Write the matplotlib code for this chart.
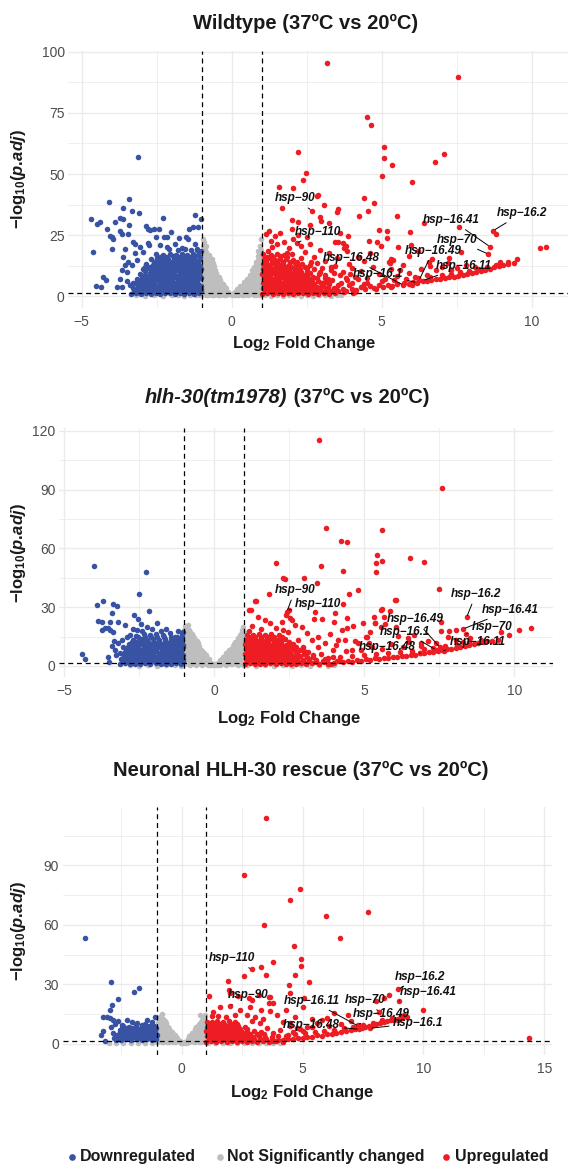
import matplotlib
matplotlib.use('Agg')
import matplotlib.pyplot as plt
from matplotlib.lines import Line2D
import numpy as np

plt.rcParams['font.family'] = ['Liberation Sans', 'DejaVu Sans']
plt.rcParams['mathtext.fontset'] = 'custom'
plt.rcParams['mathtext.rm'] = 'Liberation Sans:bold'
plt.rcParams['mathtext.it'] = 'Liberation Sans:italic:bold'
plt.rcParams['mathtext.bf'] = 'Liberation Sans:bold'

COL_DOWN = '#3953A4'
COL_NS = '#BEBEBE'
COL_UP = '#EE1D24'
LFC_CUT = 1.0
P_CUT = 0.05

# ---------------------------------------------------------------- Wildtype
wt_down = [
    (-3.13, 57.1), (-4.08, 38.6), (-3.42, 39.6), (-3.61, 36.0), (-3.33, 34.8), (-3.08, 34.1), (-4.69, 31.5),
    (-4.50, 29.5), (-4.38, 30.4), (-3.88, 30.4), (-3.72, 31.8), (-3.63, 31.7), (-3.43, 29.2), (-4.15, 27.4),
    (-3.72, 26.7), (-4.06, 24.8), (-3.98, 24.0), (-3.95, 23.2), (-3.47, 25.5), (-3.66, 25.6), (-3.99, 19.1),
    (-4.61, 17.9), (-3.56, 19.1), (-4.28, 7.9), (-4.20, 6.5), (-4.52, 4.1), (-4.37, 3.5), (-3.83, 3.5),
    (-3.72, 6.8), (-3.50, 6.2), (-3.48, 9.9), (-2.28, 31.8), (-1.23, 33.3), (-1.02, 31.7), (-1.28, 28.2),
    (-1.11, 28.4), (-1.41, 27.3), (-2.86, 28.7), (-2.78, 27.6), (-2.72, 27.0), (-2.58, 27.3), (-2.43, 27.4),
    (-2.02, 26.2), (-2.25, 24.3), (-2.15, 24.0), (-1.77, 23.7), (-1.52, 24.0), (-1.47, 23.5), (-2.53, 24.0),
    (-3.28, 22.1), (-3.21, 21.5), (-2.78, 21.8), (-2.75, 21.0), (-3.06, 20.2), (-2.39, 20.9), (-2.17, 20.2),
    (-1.89, 21.5), (-1.67, 19.5), (-1.22, 21.5), (-1.17, 18.8), (-3.61, 16.1), (-3.45, 14.0), (-3.33, 12.7),
    (-3.22, 17.5), (-2.95, 18.1), (-3.67, 10.6), (-3.56, 12.7), (-2.89, 12.0), (-3.17, 14.7), (-3.39, 4.5),
    (-3.28, 5.4), (-3.67, 3.8),
    (-3.35, 0.9), (-3.18, 1.3), (-3.02, 0.8), (-2.86, 1.2), (-2.70, 1.0), (-2.54, 1.4), (-2.38, 0.9), (-2.22, 1.1),
    (-2.06, 1.3), (-1.90, 0.8), (-1.74, 1.2), (-1.58, 1.0), (-1.42, 1.4), (-1.26, 0.9), (-1.10, 1.1),
    (-3.26, 2.0), (-3.10, 2.1), (-2.94, 1.9), (-2.78, 2.2), (-2.62, 2.0), (-2.46, 2.1), (-2.30, 1.9), (-2.14, 2.2),
    (-1.98, 2.0), (-1.82, 2.1), (-1.66, 1.9), (-1.50, 2.2), (-1.34, 2.0), (-1.18, 2.1), (-1.04, 1.9),
    (-3.30, 3.2), (-3.12, 2.8), (-2.95, 3.1), (-2.79, 3.4), (-2.62, 2.9), (-2.46, 3.2), (-2.30, 2.7), (-2.13, 3.3),
    (-1.97, 3.0), (-1.81, 2.8), (-1.65, 3.4), (-1.48, 3.1), (-1.32, 2.9), (-1.16, 3.3), (-1.03, 2.7),
    (-3.14, 4.0), (-2.97, 4.1), (-2.80, 3.9), (-2.63, 4.2), (-2.47, 4.0), (-2.31, 4.1), (-2.15, 3.9), (-1.99, 4.2),
    (-1.83, 4.0), (-1.67, 4.1), (-1.51, 3.9), (-1.35, 4.2), (-1.19, 4.0), (-1.04, 4.1),
    (-3.22, 5.2), (-3.05, 4.8), (-2.88, 5.4), (-2.71, 5.0), (-2.55, 4.7), (-2.39, 5.3), (-2.23, 5.1), (-2.07, 4.8),
    (-1.91, 5.4), (-1.75, 5.0), (-1.59, 4.9), (-1.43, 5.3), (-1.27, 5.1), (-1.11, 4.8),
    (-3.08, 6.1), (-2.92, 6.0), (-2.76, 6.2), (-2.60, 5.9), (-2.44, 6.1), (-2.28, 6.0), (-2.12, 6.2), (-1.96, 5.9),
    (-1.80, 6.1), (-1.64, 6.0), (-1.48, 6.2), (-1.32, 5.9), (-1.16, 6.1),
    (-3.15, 7.1), (-2.98, 7.4), (-2.81, 6.9), (-2.65, 7.2), (-2.49, 7.5), (-2.32, 6.8), (-2.16, 7.3), (-2.00, 7.0),
    (-1.84, 7.4), (-1.68, 6.9), (-1.52, 7.2), (-1.36, 7.5), (-1.20, 7.0), (-1.04, 7.3),
    (-2.98, 8.1), (-2.82, 8.0), (-2.66, 8.2), (-2.50, 7.9), (-2.34, 8.1), (-2.18, 8.0), (-2.02, 8.2), (-1.86, 7.9),
    (-1.70, 8.1), (-1.54, 8.0), (-1.38, 8.2), (-1.22, 7.9), (-1.06, 8.1),
    (-3.05, 9.2), (-2.88, 8.8), (-2.72, 9.4), (-2.56, 9.0), (-2.40, 9.3), (-2.24, 8.9), (-2.08, 9.5), (-1.92, 9.1),
    (-1.76, 8.8), (-1.60, 9.4), (-1.44, 9.0), (-1.28, 9.3), (-1.12, 8.9),
    (-2.88, 10.1), (-2.70, 10.0), (-2.53, 10.2), (-2.37, 9.9), (-2.21, 10.1), (-2.05, 10.0), (-1.89, 10.2),
    (-1.73, 9.9), (-1.57, 10.1), (-1.41, 10.0), (-1.25, 10.2), (-1.09, 9.9),
    (-2.95, 11.0), (-2.78, 11.4), (-2.61, 10.9), (-2.45, 11.3), (-2.29, 11.1), (-2.13, 10.8), (-1.97, 11.4),
    (-1.81, 11.0), (-1.65, 11.3), (-1.49, 10.9), (-1.33, 11.2), (-1.17, 11.5), (-1.03, 10.9),
    (-2.72, 12.1), (-2.54, 12.0), (-2.37, 12.2), (-2.20, 11.9), (-2.04, 12.1), (-1.87, 12.0), (-1.71, 12.2),
    (-1.54, 11.9), (-1.38, 12.1), (-1.22, 12.0), (-1.06, 12.2),
    (-2.85, 13.2), (-2.62, 12.9), (-2.45, 13.4), (-2.28, 13.0), (-2.12, 13.3), (-1.95, 12.8), (-1.79, 13.5),
    (-1.62, 13.1), (-1.46, 12.9), (-1.30, 13.4), (-1.14, 13.0),
    (-2.58, 14.1), (-2.38, 14.0), (-2.20, 14.2), (-2.03, 13.9), (-1.86, 14.1), (-1.69, 14.0), (-1.52, 14.2),
    (-1.35, 13.9), (-1.18, 14.1),
    (-2.70, 15.0), (-2.48, 15.4), (-2.30, 14.9), (-2.12, 15.3), (-1.94, 15.1), (-1.77, 14.8), (-1.60, 15.4),
    (-1.43, 15.0), (-1.27, 15.2), (-1.10, 14.9),
    (-2.40, 16.1), (-2.18, 16.0), (-1.96, 16.2), (-1.76, 15.9), (-1.57, 16.1), (-1.39, 16.0), (-1.21, 16.2), (-1.05, 15.9),
    (-2.52, 17.1), (-2.30, 16.8), (-2.05, 17.3), (-1.85, 17.0), (-1.66, 17.4), (-1.48, 16.9), (-1.30, 17.2), (-1.12, 17.0),
    (-2.10, 19.1), (-1.80, 18.7), (-1.55, 19.4), (-1.35, 18.9), (-1.15, 19.2), (-1.03, 18.6),
]

wt_ns = [
    (-0.98, 0.5), (-0.98, 2.5), (-0.97, 4.5), (-0.98, 6.5), (-0.97, 8.5), (-0.98, 10.5), (-0.96, 12.5), (-0.98, 14.5),
    (-0.97, 16.5), (-0.96, 18.5), (-0.97, 20.5),
    (-0.94, 1.5), (-0.93, 3.5), (-0.94, 5.5), (-0.95, 7.5), (-0.94, 9.5), (-0.93, 11.5), (-0.94, 13.5), (-0.95, 15.5), (-0.94, 17.5),
    (-0.90, 1.5), (-0.89, 3.5), (-0.91, 5.5), (-0.90, 7.5), (-0.88, 9.5), (-0.90, 11.5), (-0.89, 13.5), (-0.91, 15.5),
    (-0.88, 17.5), (-0.90, 19.0),
    (-0.85, 0.5), (-0.84, 2.5), (-0.86, 4.5), (-0.85, 6.5), (-0.84, 8.5), (-0.86, 10.5), (-0.85, 12.5), (-0.84, 14.5),
    (-0.86, 16.5), (-0.85, 18.0),
    (-0.80, 0.6), (-0.81, 2.6), (-0.79, 4.6), (-0.80, 6.6), (-0.82, 8.6), (-0.79, 10.6), (-0.80, 12.6), (-0.81, 14.6), (-0.78, 16.4),
    (-0.75, 1.5), (-0.74, 3.5), (-0.76, 5.5), (-0.75, 7.5), (-0.74, 9.5), (-0.76, 11.5), (-0.75, 13.5), (-0.74, 15.5),
    (-0.70, 1.4), (-0.71, 3.4), (-0.69, 5.4), (-0.70, 7.4), (-0.72, 9.4), (-0.69, 11.4), (-0.70, 13.4), (-0.71, 14.8),
    (-0.65, 0.5), (-0.64, 2.5), (-0.66, 4.5), (-0.65, 6.5), (-0.64, 8.5), (-0.66, 10.5), (-0.65, 12.5), (-0.64, 13.5),
    (-0.60, 0.5), (-0.61, 2.5), (-0.59, 4.5), (-0.60, 6.5), (-0.62, 8.5), (-0.60, 10.5), (-0.59, 12.2),
    (-0.55, 1.5), (-0.54, 3.5), (-0.56, 5.5), (-0.55, 7.5), (-0.54, 9.5), (-0.56, 10.8),
    (-0.50, 1.3), (-0.51, 3.3), (-0.49, 5.3), (-0.50, 7.3), (-0.52, 9.2),
    (-0.45, 0.5), (-0.44, 2.5), (-0.46, 4.5), (-0.45, 6.5), (-0.44, 8.0),
    (-0.40, 0.6), (-0.41, 2.6), (-0.39, 4.6), (-0.40, 6.6), (-0.42, 7.4),
    (-0.35, 1.5), (-0.34, 3.5), (-0.36, 5.5),
    (-0.30, 1.2), (-0.31, 3.2), (-0.29, 5.0),
    (-0.25, 0.5), (-0.24, 2.5), (-0.26, 4.0),
    (-0.20, 0.5), (-0.21, 2.2), (-0.19, 3.3),
    (-0.10, 0.8), (-0.11, 1.8), (0.00, 0.3), (0.01, 0.9), (0.10, 0.4), (0.11, 1.5),
    (0.20, 0.6), (0.21, 2.0), (0.19, 2.9), (0.25, 1.0), (0.26, 2.8),
    (0.30, 1.2), (0.31, 3.0), (0.29, 4.2), (0.35, 0.5), (0.36, 2.3), (0.34, 4.0),
    (0.40, 0.5), (0.41, 2.3), (0.39, 4.2), (0.40, 5.6), (0.45, 1.5), (0.46, 3.5), (0.44, 5.5),
    (0.50, 1.4), (0.51, 3.4), (0.49, 5.4), (0.50, 7.0), (0.55, 0.5), (0.56, 2.5), (0.54, 4.5), (0.55, 6.5),
    (0.60, 0.7), (0.61, 2.7), (0.59, 4.7), (0.60, 6.7), (0.61, 8.6),
    (0.65, 1.5), (0.66, 3.5), (0.64, 5.5), (0.65, 7.5), (0.66, 9.2),
    (0.70, 1.5), (0.71, 3.5), (0.69, 5.5), (0.70, 7.5), (0.71, 9.5), (0.69, 10.8),
    (0.75, 0.5), (0.76, 2.5), (0.74, 4.5), (0.75, 6.5), (0.76, 8.5), (0.74, 10.5), (0.75, 11.8),
    (0.80, 0.6), (0.81, 2.6), (0.79, 4.6), (0.80, 6.6), (0.81, 8.6), (0.79, 10.6), (0.80, 12.6), (0.81, 13.8),
    (0.85, 1.5), (0.86, 3.5), (0.84, 5.5), (0.85, 7.5), (0.86, 9.5), (0.84, 11.5), (0.85, 13.5), (0.86, 14.8),
    (0.90, 1.4), (0.91, 3.4), (0.89, 5.4), (0.90, 7.4), (0.91, 9.4), (0.89, 11.4), (0.90, 13.4), (0.91, 15.4), (0.89, 16.2),
    (0.94, 0.5), (0.93, 2.5), (0.94, 4.5), (0.93, 6.5), (0.94, 8.5), (0.93, 10.5), (0.94, 12.5), (0.93, 14.5), (0.94, 17.5),
    (0.97, 0.5), (0.98, 2.5), (0.96, 4.5), (0.97, 6.5), (0.98, 8.5), (0.96, 10.5), (0.97, 12.5), (0.98, 14.5), (0.96, 16.5),
    (-0.97, 23.3), (-0.93, 22.0), (-0.85, 20.5), (0.96, 23.3), (0.93, 20.5), (0.88, 18.5), (0.98, 19.0), (-0.75, 17.0), (-0.65, 15.0),
    (-3.20, 0.3), (-2.90, 0.2), (-2.60, 0.4), (-2.30, 0.2), (-2.00, 0.3), (-1.80, 0.5), (-1.60, 0.2), (-1.40, 0.4),
    (-1.20, 0.3), (-1.05, 0.5), (1.10, 0.3), (1.30, 0.2), (1.50, 0.4), (1.70, 0.2), (1.90, 0.3), (2.10, 0.5),
    (2.30, 0.2), (2.50, 0.3), (2.70, 0.2), (2.90, 0.4), (3.10, 0.3), (3.30, 0.2), (3.50, 0.4), (3.65, 0.3),
]

wt_up = [
    (3.19, 95.6), (7.53, 89.9), (4.52, 73.3), (4.64, 69.9), (5.08, 61.1), (5.08, 56.6), (5.33, 53.6), (5.02, 49.3),
    (6.02, 46.8), (7.08, 58.2), (6.77, 55.1), (2.20, 59.0), (2.47, 50.4), (2.39, 47.4), (1.57, 44.7), (2.05, 44.2),
    (2.83, 41.1), (2.89, 41.5), (4.42, 40.0), (4.73, 38.1), (3.07, 37.4), (3.55, 35.6), (3.52, 34.4), (4.53, 34.8),
    (4.25, 32.9), (5.51, 32.9), (5.96, 26.4), (6.41, 29.9), (7.59, 28.1), (8.72, 26.8), (8.80, 25.6), (8.61, 20.2),
    (8.55, 17.2), (10.27, 19.5), (10.46, 20.0), (4.90, 27.1), (5.18, 26.7), (5.18, 23.8), (5.99, 20.8), (5.54, 20.0),
    (3.89, 24.7), (4.58, 22.7), (7.65, 18.2), (7.23, 15.5), (6.69, 15.3), (6.57, 14.1), (5.30, 15.3), (5.24, 14.0),
    (8.95, 13.8), (9.22, 14.1), (9.52, 15.3), (1.69, 36.1), (2.94, 32.4), (2.97, 30.7), (2.00, 31.1), (2.20, 30.4),
    (3.24, 30.1), (2.61, 29.0), (2.67, 35.0), (2.17, 21.6), (3.81, 20.3), (3.85, 18.5), (3.61, 25.7), (3.53, 22.3),
    (3.72, 21.6), (4.83, 22.3), (4.97, 20.7), (5.37, 14.9), (5.28, 13.5),
    (1.02, 0.9), (1.19, 1.3), (1.36, 0.8), (1.53, 1.2), (1.70, 1.0), (1.87, 1.4), (2.04, 0.9), (2.21, 1.1), (2.38, 1.3),
    (2.55, 0.8), (2.72, 1.2), (2.89, 1.0), (3.06, 1.4), (3.23, 0.9), (3.45, 1.2),
    (1.10, 2.0), (1.27, 2.1), (1.44, 1.9), (1.61, 2.2), (1.78, 2.0), (1.95, 2.1), (2.12, 1.9), (2.29, 2.2), (2.46, 2.0),
    (2.63, 2.1), (2.80, 1.9), (2.98, 2.2), (3.15, 2.0), (3.32, 2.1), (3.55, 1.9),
    (1.05, 3.2), (1.22, 2.8), (1.39, 3.1), (1.56, 3.4), (1.73, 2.9), (1.90, 3.2), (2.07, 2.7), (2.24, 3.3), (2.41, 3.0),
    (2.58, 2.8), (2.75, 3.4), (2.95, 3.1), (3.15, 2.9), (3.40, 3.3), (3.70, 2.7),
    (1.12, 4.0), (1.29, 4.1), (1.46, 3.9), (1.63, 4.2), (1.80, 4.0), (1.97, 4.1), (2.14, 3.9), (2.31, 4.2), (2.48, 4.0),
    (2.66, 4.1), (2.85, 3.9), (3.05, 4.2),
    (1.03, 5.2), (1.20, 4.8), (1.37, 5.4), (1.54, 5.0), (1.71, 4.7), (1.88, 5.3), (2.05, 5.1), (2.22, 4.8), (2.39, 5.4),
    (2.56, 5.0), (2.75, 4.9), (2.98, 5.3), (3.25, 5.1),
    (1.11, 6.1), (1.28, 6.0), (1.45, 6.2), (1.62, 5.9), (1.79, 6.1), (1.96, 6.0), (2.13, 6.2), (2.30, 5.9), (2.47, 6.1),
    (2.66, 6.0), (2.88, 6.2), (3.12, 5.9),
    (1.06, 7.1), (1.23, 7.4), (1.40, 6.9), (1.57, 7.2), (1.74, 7.5), (1.91, 6.8), (2.08, 7.3), (2.25, 7.0), (2.42, 7.4),
    (2.62, 6.9), (2.85, 7.2), (3.10, 7.5),
    (1.12, 8.1), (1.29, 8.0), (1.46, 8.2), (1.63, 7.9), (1.80, 8.1), (1.97, 8.0), (2.14, 8.2), (2.31, 7.9), (2.50, 8.1), (2.72, 8.0),
    (1.02, 9.2), (1.19, 8.8), (1.36, 9.4), (1.53, 9.0), (1.70, 9.3), (1.87, 8.9), (2.04, 9.5), (2.21, 9.1), (2.40, 8.8),
    (2.62, 9.4), (2.90, 9.0),
    (1.10, 10.1), (1.27, 10.0), (1.44, 10.2), (1.61, 9.9), (1.78, 10.1), (1.95, 10.0), (2.13, 10.2), (2.32, 9.9), (2.52, 10.1),
    (1.05, 11.0), (1.22, 11.4), (1.39, 10.9), (1.56, 11.3), (1.73, 11.1), (1.90, 10.8), (2.08, 11.4), (2.28, 11.0),
    (2.50, 11.3), (2.75, 10.9),
    (1.12, 12.1), (1.29, 12.0), (1.46, 12.2), (1.63, 11.9), (1.80, 12.1), (1.99, 12.0), (2.20, 12.2), (2.45, 11.9),
    (1.03, 13.2), (1.20, 12.9), (1.37, 13.4), (1.54, 13.0), (1.71, 13.3), (1.90, 12.8), (2.12, 13.5), (2.35, 13.1), (2.60, 12.9),
    (1.15, 14.1), (1.33, 14.0), (1.52, 14.2), (1.72, 13.9), (1.93, 14.1), (2.18, 14.0),
    (1.08, 15.0), (1.25, 15.4), (1.45, 14.9), (1.62, 15.3), (1.82, 15.1), (2.05, 14.8), (2.30, 15.4),
    (1.17, 16.1), (1.38, 16.0), (1.60, 16.2), (1.85, 15.9),
    (1.05, 17.1), (1.30, 16.8), (1.52, 17.3), (1.75, 17.0), (2.00, 17.4),
    (1.20, 18.5), (1.35, 20.0), (1.50, 21.5), (1.45, 24.5), (1.62, 26.0), (1.75, 22.0), (1.90, 19.5), (2.05, 23.5),
    (2.30, 20.5), (2.45, 18.0), (2.60, 21.5), (2.75, 16.0), (2.95, 19.0), (3.10, 14.5), (3.30, 12.0), (3.50, 15.5),
    (3.70, 10.0), (3.90, 13.0), (3.60, 8.5), (3.85, 6.5), (3.40, 9.5), (3.20, 7.0), (3.55, 4.5), (3.00, 11.5),
    (2.85, 13.5), (1.30, 22.5), (1.15, 25.5), (2.20, 25.0), (2.50, 24.0), (2.00, 27.5), (1.85, 17.5), (2.65, 14.0),
    (3.25, 17.5), (3.45, 22.0), (3.75, 19.5), (1.25, 26.5),
    (3.00, 5.5), (3.20, 3.8), (3.35, 6.5), (3.50, 2.5), (3.65, 5.5), (3.30, 10.5), (3.10, 8.5), (2.95, 9.8),
    (3.45, 12.5), (3.80, 7.5), (4.00, 5.5), (4.20, 6.8), (4.40, 4.8), (3.75, 1.5), (4.05, 1.2),
    (3.80, 2.2), (4.00, 3.0), (4.15, 2.5), (4.30, 3.6), (4.45, 3.0), (4.60, 4.0), (4.75, 3.4), (4.90, 4.4), (5.05, 3.8),
    (5.20, 4.7), (5.35, 4.2), (5.50, 5.0), (5.72, 4.5), (5.75, 5.3), (5.90, 5.0), (6.05, 5.6), (6.17, 5.5), (6.25, 6.6),
    (6.37, 6.3), (6.50, 6.0), (6.65, 6.6), (6.80, 6.8), (6.95, 7.1), (7.10, 7.3), (7.25, 7.7), (7.40, 8.0), (7.55, 8.4),
    (7.70, 8.7), (7.85, 9.1), (8.00, 9.5), (8.15, 9.9), (8.30, 10.4), (8.45, 10.8), (8.60, 11.2), (8.75, 11.7),
    (8.90, 12.2), (9.05, 12.6), (9.20, 13.0), (9.40, 13.4),
    (4.50, 5.2), (5.00, 6.0), (5.40, 6.5), (5.80, 7.0), (6.20, 7.5), (6.60, 8.0), (7.00, 8.6), (7.30, 9.2), (7.60, 9.8),
    (7.90, 10.4), (8.20, 11.0), (8.50, 11.8), (8.80, 12.9), (6.00, 4.6), (5.30, 3.5), (4.80, 2.8), (4.10, 1.8), (3.90, 4.6),
    (4.10, 8.0), (4.30, 10.2), (4.50, 7.2), (4.70, 12.0), (4.90, 9.0), (5.10, 6.8), (5.30, 11.0), (5.50, 8.2),
    (5.70, 12.8), (5.90, 9.5), (6.10, 7.8), (6.30, 11.0), (6.50, 8.5), (6.80, 10.5), (7.00, 12.0), (7.30, 10.8),
    (7.50, 11.5), (7.80, 12.8), (8.10, 12.0), (6.60, 12.5), (5.90, 16.5), (6.20, 18.5), (7.20, 13.5), (4.40, 14.5),
    (4.00, 11.5), (4.20, 16.0), (3.95, 9.0), (4.60, 17.5), (5.60, 10.5),
]

wt_labels = [
    ('hsp\u221290', 2.67, 35.0, 2.11, 40.0), ('hsp\u2212110', 2.17, 21.6, 2.89, 26.4),
    ('hsp\u221216.48', 5.72, 4.5, 4.00, 15.5), ('hsp\u221216.1', 6.17, 5.5, 4.89, 9.0),
    ('hsp\u221216.49', 6.25, 6.6, 6.72, 18.6), ('hsp\u221216.11', 6.37, 6.3, 7.72, 12.3),
    ('hsp\u221270', 8.55, 17.2, 7.50, 23.0), ('hsp\u221216.41', 8.61, 20.2, 7.33, 31.1),
    ('hsp\u221216.2', 8.72, 26.8, 9.67, 33.9),
]

# ---------------------------------------------------------------- hlh-30(tm1978)
hlh_down = [
    (-4.00, 51.0), (-2.29, 48.0), (-2.50, 36.6), (-3.70, 33.3), (-3.90, 31.0), (-3.37, 31.6), (-3.25, 30.8),
    (-2.17, 28.2), (-3.40, 26.9), (-2.69, 26.2), (-3.89, 23.0), (-3.73, 22.5), (-3.48, 22.6), (-3.22, 22.6),
    (-2.53, 23.8), (-2.44, 21.6), (-2.98, 20.8), (-3.64, 19.6), (-3.53, 19.6), (-3.75, 18.4), (-3.49, 18.4),
    (-3.37, 17.5), (-2.70, 18.7), (-2.59, 18.4), (-2.42, 18.0), (-2.25, 19.7), (-2.09, 18.7), (-1.92, 21.8),
    (-1.78, 18.0), (-1.48, 16.7), (-1.31, 15.0), (-1.09, 16.3), (-3.22, 11.6), (-3.31, 8.2), (-3.28, 5.6),
    (-3.53, 4.4), (-3.50, 2.2), (-4.42, 6.1), (-4.31, 3.6), (-3.09, 13.3), (-2.92, 15.0), (-3.03, 9.5), (-3.14, 6.8),
    (-2.80, 16.0), (-2.60, 15.5), (-2.35, 16.2), (-2.15, 15.8), (-1.95, 16.5), (-1.70, 15.6), (-1.60, 18.9),
    (-1.20, 18.0), (-1.05, 17.5), (-3.35, 12.8), (-3.40, 10.0),
    (-3.15, 1.0), (-2.98, 1.4), (-2.81, 0.8), (-2.64, 1.2), (-2.47, 0.9), (-2.30, 1.3), (-2.13, 1.0), (-1.96, 1.4),
    (-1.79, 0.8), (-1.62, 1.2), (-1.45, 0.9), (-1.28, 1.3), (-1.11, 1.0),
    (-3.06, 2.3), (-2.89, 2.2), (-2.72, 2.4), (-2.55, 2.1), (-2.38, 2.3), (-2.21, 2.2), (-2.04, 2.4), (-1.87, 2.1),
    (-1.70, 2.3), (-1.53, 2.2), (-1.36, 2.4), (-1.19, 2.1), (-1.04, 2.3),
    (-3.10, 3.6), (-2.93, 3.2), (-2.76, 3.8), (-2.59, 3.4), (-2.42, 3.7), (-2.25, 3.1), (-2.08, 3.6), (-1.91, 3.3),
    (-1.74, 3.8), (-1.57, 3.4), (-1.40, 3.6), (-1.23, 3.2), (-1.06, 3.7),
    (-3.02, 4.8), (-2.85, 4.7), (-2.68, 4.9), (-2.51, 4.6), (-2.34, 4.8), (-2.17, 4.7), (-2.00, 4.9), (-1.83, 4.6),
    (-1.66, 4.8), (-1.49, 4.7), (-1.32, 4.9), (-1.15, 4.6),
    (-3.05, 6.1), (-2.88, 5.8), (-2.71, 6.3), (-2.54, 5.9), (-2.37, 6.2), (-2.20, 5.7), (-2.03, 6.3), (-1.86, 6.0),
    (-1.69, 5.8), (-1.52, 6.3), (-1.35, 5.9), (-1.18, 6.2), (-1.03, 5.8),
    (-2.98, 7.3), (-2.81, 7.2), (-2.64, 7.4), (-2.47, 7.1), (-2.30, 7.3), (-2.13, 7.2), (-1.96, 7.4), (-1.79, 7.1),
    (-1.62, 7.3), (-1.45, 7.2), (-1.28, 7.4), (-1.11, 7.1),
    (-2.95, 8.6), (-2.78, 8.3), (-2.61, 8.8), (-2.44, 8.4), (-2.27, 8.7), (-2.10, 8.2), (-1.93, 8.8), (-1.76, 8.5),
    (-1.59, 8.3), (-1.42, 8.8), (-1.25, 8.4), (-1.08, 8.7),
    (-2.88, 9.8), (-2.70, 9.7), (-2.53, 9.9), (-2.36, 9.6), (-2.19, 9.8), (-2.02, 9.7), (-1.85, 9.9), (-1.68, 9.6),
    (-1.51, 9.8), (-1.34, 9.7), (-1.17, 9.9), (-1.03, 9.6),
    (-2.85, 11.1), (-2.66, 10.8), (-2.48, 11.3), (-2.30, 10.9), (-2.12, 11.2), (-1.94, 10.7), (-1.76, 11.3),
    (-1.58, 11.0), (-1.40, 10.8), (-1.22, 11.3), (-1.05, 10.9),
    (-2.76, 12.3), (-2.57, 12.2), (-2.38, 12.4), (-2.20, 12.1), (-2.02, 12.3), (-1.84, 12.2), (-1.66, 12.4),
    (-1.48, 12.1), (-1.30, 12.3), (-1.13, 12.2),
    (-2.70, 13.4), (-2.45, 13.8), (-2.25, 13.3), (-2.05, 13.7), (-1.85, 13.2), (-1.65, 13.8), (-1.45, 13.4),
    (-1.25, 13.6), (-1.08, 13.3),
    (-2.55, 14.8), (-2.30, 14.6), (-2.10, 14.9), (-1.90, 14.7), (-1.68, 14.8), (-1.46, 14.6), (-1.25, 14.9), (-1.07, 14.7),
]

hlh_ns = [
    (-1.00, 0.8), (-1.00, 3.3), (-0.99, 5.8), (-1.00, 8.3), (-0.99, 10.8), (-1.00, 13.3), (-0.99, 15.8), (-1.00, 18.3), (-0.98, 20.5),
    (-0.95, 2.0), (-0.96, 4.5), (-0.95, 7.0), (-0.94, 9.5), (-0.95, 12.0), (-0.96, 14.5), (-0.95, 17.0), (-0.94, 19.5),
    (-0.90, 1.5), (-0.91, 4.0), (-0.89, 6.5), (-0.90, 9.0), (-0.91, 11.5), (-0.89, 14.0), (-0.90, 16.5), (-0.91, 19.0), (-0.89, 21.0),
    (-0.85, 0.8), (-0.86, 3.3), (-0.85, 5.8), (-0.84, 8.3), (-0.85, 10.8), (-0.86, 13.3), (-0.85, 15.8), (-0.84, 18.3),
    (-0.80, 0.6), (-0.81, 3.1), (-0.79, 5.6), (-0.80, 8.1), (-0.81, 10.6), (-0.79, 13.1), (-0.80, 15.6), (-0.81, 17.2),
    (-0.75, 2.0), (-0.76, 4.5), (-0.75, 7.0), (-0.74, 9.5), (-0.75, 12.0), (-0.76, 14.5), (-0.75, 16.2),
    (-0.70, 1.6), (-0.71, 4.1), (-0.69, 6.6), (-0.70, 9.1), (-0.71, 11.6), (-0.69, 14.1), (-0.70, 15.4),
    (-0.65, 0.8), (-0.66, 3.3), (-0.65, 5.8), (-0.64, 8.3), (-0.65, 10.8), (-0.66, 13.3),
    (-0.60, 0.7), (-0.61, 3.2), (-0.59, 5.7), (-0.60, 8.2), (-0.61, 10.7), (-0.59, 12.8),
    (-0.55, 2.0), (-0.56, 4.5), (-0.55, 7.0), (-0.54, 9.5), (-0.55, 11.5),
    (-0.50, 1.5), (-0.51, 4.0), (-0.49, 6.5), (-0.50, 9.0), (-0.51, 10.2),
    (-0.45, 0.8), (-0.46, 3.3), (-0.45, 5.8), (-0.44, 8.3),
    (-0.40, 0.6), (-0.41, 3.1), (-0.39, 5.6), (-0.40, 7.8),
    (-0.35, 2.0), (-0.36, 4.5), (-0.35, 6.5),
    (-0.30, 1.4), (-0.31, 3.9), (-0.29, 5.4),
    (-0.25, 0.8), (-0.26, 3.0), (-0.25, 4.3),
    (-0.20, 0.6), (-0.21, 2.4), (-0.19, 3.4),
    (-0.10, 0.5), (-0.11, 1.6), (0.00, 0.3), (0.01, 0.8), (0.10, 0.5), (0.11, 1.4),
    (0.20, 0.7), (0.21, 2.5), (0.19, 3.3), (0.25, 1.5), (0.26, 3.5),
    (0.30, 1.3), (0.31, 3.6), (0.29, 4.8), (0.35, 0.8), (0.36, 3.0), (0.35, 5.0),
    (0.40, 0.6), (0.41, 3.1), (0.39, 5.6), (0.40, 6.5), (0.45, 2.0), (0.46, 4.5), (0.45, 7.0),
    (0.50, 1.6), (0.51, 4.1), (0.49, 6.6), (0.50, 8.2), (0.55, 0.8), (0.56, 3.3), (0.55, 5.8), (0.54, 8.5),
    (0.60, 0.8), (0.61, 3.3), (0.59, 5.8), (0.60, 8.3), (0.61, 10.2),
    (0.65, 2.0), (0.66, 4.5), (0.65, 7.0), (0.64, 9.5), (0.65, 11.0),
    (0.70, 1.6), (0.71, 4.1), (0.69, 6.6), (0.70, 9.1), (0.71, 11.6), (0.69, 12.4),
    (0.75, 0.8), (0.76, 3.3), (0.75, 5.8), (0.74, 8.3), (0.75, 10.8), (0.76, 13.0),
    (0.80, 0.7), (0.81, 3.2), (0.79, 5.7), (0.80, 8.2), (0.81, 10.7), (0.79, 13.2), (0.80, 14.5),
    (0.85, 2.0), (0.86, 4.5), (0.85, 7.0), (0.84, 9.5), (0.85, 12.0), (0.86, 14.5), (0.85, 15.8),
    (0.90, 1.5), (0.91, 4.0), (0.89, 6.5), (0.90, 9.0), (0.91, 11.5), (0.89, 14.0), (0.90, 16.5),
    (0.94, 0.8), (0.95, 3.3), (0.94, 5.8), (0.93, 8.3), (0.94, 10.8), (0.95, 13.3), (0.94, 15.8), (0.93, 18.5),
    (0.97, 0.6), (0.98, 3.1), (0.96, 5.6), (0.97, 8.1), (0.98, 10.6), (0.96, 13.1), (0.97, 15.6), (0.98, 17.5), (0.96, 20.0),
    (-2.80, 0.3), (-2.50, 0.2), (-2.20, 0.4), (-1.90, 0.2), (-1.60, 0.3), (-1.30, 0.4), (-1.10, 0.2),
    (1.10, 0.3), (1.40, 0.2), (1.70, 0.4), (2.00, 0.2), (2.30, 0.3), (2.60, 0.2), (2.90, 0.4), (3.20, 0.2),
    (3.50, 0.3), (3.80, 0.2), (4.00, 0.4),
]

hlh_up = [
    (3.48, 115.4), (7.59, 90.7), (3.72, 70.3), (5.59, 69.2), (4.21, 63.9), (4.41, 63.2), (5.43, 56.8), (5.59, 53.4),
    (5.39, 52.7), (5.39, 48.1), (6.52, 55.3), (6.99, 53.2), (2.07, 52.5), (3.57, 50.8), (4.28, 48.5), (2.29, 45.1),
    (2.34, 44.2), (2.99, 45.1), (3.41, 42.5), (4.79, 39.0), (4.49, 36.9), (7.50, 39.5), (1.83, 36.6), (1.34, 33.4),
    (6.01, 33.9), (6.07, 33.6), (4.30, 31.4), (5.55, 28.8), (1.16, 28.8), (2.42, 27.7), (2.50, 28.6), (8.41, 24.8),
    (8.30, 18.9), (8.39, 16.3), (8.05, 18.6), (7.83, 18.0), (9.57, 17.5), (10.16, 18.3), (10.55, 19.5), (9.82, 15.8),
    (7.54, 22.5), (7.54, 17.8), (7.52, 9.5), (7.39, 8.2), (7.64, 7.8), (6.86, 6.5), (5.33, 25.1), (5.67, 25.1),
    (5.58, 29.1), (5.86, 28.2),
    (5.34, 21.7), (5.55, 20.0), (5.70, 21.4), (6.04, 20.0), (6.13, 15.3), (6.46, 14.1), (6.65, 15.6), (6.89, 11.5),
    (7.13, 12.9), (7.38, 11.5), (7.80, 14.9), (8.05, 13.2), (8.29, 12.4), (8.51, 14.4), (4.63, 20.5), (4.94, 21.7),
    (4.43, 19.2), (5.06, 14.9), (5.18, 17.3),
    (1.38, 33.2), (1.22, 28.6), (3.36, 27.7), (3.60, 24.0), (3.33, 24.2), (4.02, 27.2), (4.00, 22.6), (4.41, 24.3),
    (4.25, 18.4), (1.69, 23.5), (1.47, 25.2), (1.86, 21.8), (2.25, 22.6), (2.58, 23.5), (2.69, 21.0), (2.91, 19.7),
    (3.08, 16.7), (3.25, 13.3), (3.47, 15.0), (3.69, 11.6), (3.86, 16.3), (3.97, 8.2), (4.13, 13.3), (2.80, 13.3),
    (2.97, 9.9), (3.13, 7.3), (4.58, 8.2), (4.80, 11.6), (5.08, 15.0), (5.25, 9.9), (5.36, 21.8), (2.52, 24.3),
    (2.38, 26.0), (2.30, 18.4), (1.25, 20.5), (1.55, 19.0), (2.05, 19.5), (2.45, 17.5), (1.15, 18.0), (3.30, 4.5),
    (3.55, 6.0), (3.80, 4.0), (3.45, 9.5), (3.65, 2.0), (3.90, 1.0), (4.10, 2.5),
    (1.02, 1.0), (1.19, 1.4), (1.36, 0.8), (1.53, 1.2), (1.70, 0.9), (1.87, 1.3), (2.04, 1.0), (2.21, 1.4), (2.38, 0.8),
    (2.55, 1.2), (2.72, 0.9), (2.89, 1.3), (3.06, 1.0), (3.25, 1.4), (3.50, 0.9), (3.80, 1.2),
    (1.10, 2.3), (1.27, 2.2), (1.44, 2.4), (1.61, 2.1), (1.78, 2.3), (1.95, 2.2), (2.12, 2.4), (2.29, 2.1), (2.46, 2.3),
    (2.63, 2.2), (2.80, 2.4), (2.98, 2.1), (3.16, 2.3), (3.38, 2.2), (3.62, 2.4),
    (1.05, 3.6), (1.22, 3.2), (1.39, 3.8), (1.56, 3.4), (1.73, 3.7), (1.90, 3.1), (2.07, 3.6), (2.24, 3.3), (2.41, 3.8),
    (2.58, 3.4), (2.75, 3.6), (2.95, 3.2), (3.15, 3.7), (3.40, 3.3), (3.70, 3.6),
    (1.12, 4.8), (1.29, 4.7), (1.46, 4.9), (1.63, 4.6), (1.80, 4.8), (1.97, 4.7), (2.14, 4.9), (2.31, 4.6), (2.48, 4.8),
    (2.66, 4.7), (2.85, 4.9), (3.08, 4.6),
    (1.03, 6.1), (1.20, 5.8), (1.37, 6.3), (1.54, 5.9), (1.71, 6.2), (1.88, 5.7), (2.05, 6.3), (2.22, 6.0), (2.39, 5.8),
    (2.56, 6.3), (2.75, 5.9), (3.00, 6.2), (3.30, 5.8),
    (1.11, 7.3), (1.28, 7.2), (1.45, 7.4), (1.62, 7.1), (1.79, 7.3), (1.96, 7.2), (2.13, 7.4), (2.30, 7.1), (2.50, 7.3),
    (2.72, 7.2), (2.98, 7.4),
    (1.06, 8.6), (1.23, 8.3), (1.40, 8.8), (1.57, 8.4), (1.74, 8.7), (1.91, 8.2), (2.08, 8.8), (2.25, 8.5), (2.42, 8.3),
    (2.62, 8.8), (2.85, 8.4),
    (1.10, 9.8), (1.27, 9.7), (1.44, 9.9), (1.61, 9.6), (1.78, 9.8), (1.95, 9.7), (2.12, 9.9), (2.30, 9.6), (2.50, 9.8), (2.72, 9.7),
    (1.02, 11.1), (1.19, 10.8), (1.36, 11.3), (1.53, 10.9), (1.70, 11.2), (1.87, 10.7), (2.04, 11.3), (2.21, 11.0),
    (2.40, 10.8), (2.62, 11.3),
    (1.12, 12.3), (1.29, 12.2), (1.46, 12.4), (1.63, 12.1), (1.80, 12.3), (2.00, 12.2), (2.22, 12.4), (2.48, 12.1),
    (1.05, 13.4), (1.22, 13.8), (1.39, 13.3), (1.56, 13.7), (1.73, 13.2), (1.92, 13.8), (2.12, 13.4), (2.35, 13.6),
    (1.15, 14.8), (1.36, 14.6), (1.57, 14.9), (1.78, 14.7), (2.00, 14.8), (2.25, 14.6),
    (1.08, 16.0), (1.28, 15.6), (1.48, 16.2), (1.68, 15.8), (1.90, 16.3), (2.15, 15.7),
    (4.00, 1.5), (4.15, 2.5), (4.30, 1.8), (4.45, 2.8), (4.60, 2.2), (4.75, 3.2), (4.90, 2.7), (5.05, 3.5), (5.20, 3.0),
    (5.35, 4.0), (5.50, 3.5), (5.65, 4.3), (5.80, 4.0), (5.95, 4.8), (6.10, 4.5), (6.25, 5.3), (6.40, 5.0), (6.55, 5.8),
    (6.70, 5.7), (6.85, 6.4), (7.00, 6.5), (7.15, 7.0), (7.30, 7.2), (7.45, 7.8), (7.60, 8.0), (7.75, 8.6), (7.90, 8.9),
    (8.05, 9.4), (8.20, 9.9), (8.35, 10.3), (8.50, 10.8), (8.65, 11.3), (8.80, 11.8), (8.95, 12.2), (9.10, 12.6),
    (9.25, 13.0), (9.45, 13.5),
    (4.20, 4.5), (4.60, 5.3), (5.00, 5.8), (5.40, 6.2), (5.80, 6.8), (6.20, 7.2), (6.60, 7.8), (7.00, 8.6), (7.30, 9.2),
    (7.70, 10.0), (8.10, 10.8), (8.50, 12.0), (8.90, 13.2), (4.40, 7.5), (4.90, 8.0), (5.60, 8.5), (6.30, 9.5),
    (6.90, 10.2), (4.70, 12.5), (5.90, 11.0), (6.50, 12.0), (4.05, 10.5), (4.35, 13.5), (5.15, 11.5), (3.95, 4.5), (3.75, 3.0),
]

hlh_labels = [
    ('hsp\u221290', 2.42, 27.7, 2.69, 38.8), ('hsp\u2212110', 2.50, 28.6, 3.47, 31.6),
    ('hsp\u221216.49', 7.52, 9.5, 6.69, 23.8), ('hsp\u221216.1', 7.39, 8.2, 6.36, 17.5),
    ('hsp\u221216.48', 6.86, 6.5, 5.75, 9.5), ('hsp\u221216.11', 7.64, 7.8, 8.77, 12.4),
    ('hsp\u221216.2', 8.41, 24.8, 8.72, 36.7), ('hsp\u221216.41', 8.30, 18.9, 9.86, 28.6),
    ('hsp\u221270', 8.39, 16.3, 9.25, 20.1),
]

# ---------------------------------------------------------------- Neuronal rescue
neu_down = [
    (-3.99, 53.2), (-2.93, 30.9), (-1.76, 27.9), (-1.95, 25.9), (-2.64, 22.4), (-2.89, 19.5), (-2.95, 17.0),
    (-3.23, 13.6), (-3.09, 13.2), (-2.95, 12.7), (-2.82, 11.9), (-2.61, 11.4), (-2.27, 11.9), (-2.06, 11.1),
    (-1.41, 11.9), (-1.20, 11.1), (-1.09, 13.6), (-3.26, 6.5), (-3.31, 4.3), (-3.16, 1.5), (-2.93, 8.5),
    (-2.75, 9.9), (-2.47, 9.4), (-1.65, 9.4), (-2.85, 5.5), (-2.80, 3.0), (-1.85, 10.5), (-1.50, 10.0),
    (-2.70, 2.0), (-2.49, 1.6), (-2.28, 2.2), (-2.07, 1.8), (-1.86, 2.3), (-1.65, 1.7), (-1.44, 2.1), (-1.23, 1.8), (-1.05, 2.2),
    (-2.60, 3.2), (-2.39, 3.3), (-2.18, 3.1), (-1.97, 3.4), (-1.76, 3.2), (-1.55, 3.3), (-1.34, 3.1), (-1.13, 3.4),
    (-2.65, 4.5), (-2.44, 4.8), (-2.23, 4.3), (-2.02, 4.7), (-1.81, 4.4), (-1.60, 4.9), (-1.39, 4.5), (-1.18, 4.8), (-1.03, 4.3),
    (-2.55, 5.8), (-2.34, 5.7), (-2.13, 5.9), (-1.92, 5.6), (-1.71, 5.8), (-1.50, 5.7), (-1.29, 5.9), (-1.10, 5.6),
    (-2.55, 7.0), (-2.34, 6.7), (-2.13, 7.2), (-1.92, 6.8), (-1.71, 7.1), (-1.50, 6.6), (-1.29, 7.2), (-1.08, 6.9),
    (-2.45, 8.0), (-2.24, 7.9), (-2.03, 8.1), (-1.82, 7.8), (-1.61, 8.0), (-1.40, 7.9), (-1.19, 8.1), (-1.04, 7.8),
    (-2.40, 9.0), (-2.15, 8.6), (-1.90, 9.2), (-1.60, 8.8), (-1.35, 9.1), (-1.12, 8.7),
]

neu_ns = [
    (-1.00, 0.6), (-1.00, 3.1), (-0.99, 5.6), (-1.00, 8.1), (-0.99, 10.6), (-1.00, 13.1),
    (-0.94, 2.0), (-0.95, 4.5), (-0.94, 7.0), (-0.93, 9.5), (-0.94, 12.0),
    (-0.88, 1.5), (-0.89, 4.0), (-0.87, 6.5), (-0.88, 9.0), (-0.89, 11.5), (-0.88, 13.5),
    (-0.82, 0.8), (-0.83, 3.3), (-0.82, 5.8), (-0.81, 8.3), (-0.82, 10.8), (-0.83, 12.8),
    (-0.76, 0.7), (-0.77, 3.2), (-0.75, 5.7), (-0.76, 8.2), (-0.77, 10.7), (-0.75, 12.4), (-0.82, 14.7),
    (-0.70, 2.0), (-0.71, 4.5), (-0.70, 7.0), (-0.69, 9.5), (-0.70, 11.5),
    (-0.64, 1.6), (-0.65, 4.1), (-0.63, 6.6), (-0.64, 9.1), (-0.65, 10.5),
    (-0.58, 0.8), (-0.59, 3.3), (-0.58, 5.8), (-0.57, 8.3),
    (-0.52, 0.8), (-0.53, 3.3), (-0.51, 5.8), (-0.52, 7.4),
    (-0.46, 2.0), (-0.47, 4.5), (-0.46, 6.5),
    (-0.40, 1.7), (-0.41, 4.2), (-0.39, 5.8),
    (-0.34, 0.8), (-0.35, 3.3), (-0.34, 5.0),
    (-0.28, 0.6), (-0.29, 2.8), (-0.27, 4.4),
    (-0.22, 2.0), (-0.23, 3.5),
    (-0.16, 1.2), (-0.17, 2.8), (-0.04, 0.5), (-0.05, 1.4), (0.08, 0.3), (0.09, 0.7), (0.20, 0.5), (0.21, 1.5),
    (0.26, 1.0), (0.27, 2.5),
    (0.32, 0.8), (0.33, 2.8), (0.31, 3.8), (0.38, 2.0), (0.39, 4.5),
    (0.44, 1.6), (0.45, 4.1), (0.43, 5.5), (0.50, 0.8), (0.51, 3.3), (0.50, 5.8),
    (0.56, 0.7), (0.57, 3.2), (0.55, 5.7), (0.56, 7.4), (0.62, 2.0), (0.63, 4.5), (0.62, 7.0), (0.61, 8.2),
    (0.68, 1.7), (0.69, 4.2), (0.67, 6.7), (0.68, 9.0), (0.74, 0.8), (0.75, 3.3), (0.74, 5.8), (0.73, 8.3), (0.74, 10.0),
    (0.80, 0.8), (0.81, 3.3), (0.79, 5.8), (0.80, 8.3), (0.81, 10.8), (0.86, 2.0), (0.87, 4.5), (0.86, 7.0), (0.85, 9.5), (0.86, 12.0),
    (0.92, 1.6), (0.93, 4.1), (0.91, 6.6), (0.92, 9.1), (0.93, 11.6), (0.91, 13.0),
    (0.96, 0.8), (0.97, 3.3), (0.96, 5.8), (0.95, 8.3), (0.96, 10.8), (0.97, 13.3),
    (0.75, 14.5), (0.95, 14.6),
    (-3.00, 0.4), (-2.70, 0.3), (-2.40, 0.5), (-2.10, 0.3), (-1.80, 0.4), (-1.50, 0.3), (-1.20, 0.5),
    (1.10, 0.3), (1.40, 0.5), (1.70, 0.2), (2.00, 0.4), (2.30, 0.3), (2.60, 0.5), (2.90, 0.2), (3.20, 0.4),
    (3.50, 0.3), (3.80, 0.2), (4.05, 0.4),
]

neu_up = [
    (3.48, 113.8), (2.60, 85.2), (4.88, 77.9), (4.50, 72.7), (7.70, 66.3), (5.98, 64.4), (3.41, 60.0), (6.53, 53.3),
    (4.65, 49.1), (4.92, 42.8), (3.80, 41.3), (4.92, 39.3), (2.90, 37.5), (3.27, 38.8), (2.60, 34.1), (3.48, 34.6),
    (4.67, 34.7), (5.26, 31.0), (1.91, 31.5), (4.43, 29.5), (1.95, 27.0), (8.96, 27.4), (8.56, 24.6), (1.13, 24.1),
    (2.78, 22.8), (2.93, 21.8), (3.65, 23.6), (3.60, 20.6), (4.50, 25.3), (5.08, 23.1), (9.00, 21.5), (8.38, 23.1),
    (8.03, 21.4), (2.00, 19.0), (10.00, 16.7), (6.31, 15.5), (8.17, 16.1), (7.28, 9.5), (7.79, 7.7), (7.31, 8.8),
    (7.35, 7.2), (14.37, 2.9), (9.05, 13.8), (8.93, 12.1),
    (2.00, 25.7), (2.35, 24.0), (3.20, 24.5), (2.83, 18.3), (3.27, 17.0), (3.66, 16.6), (3.38, 12.2), (1.59, 18.6),
    (1.32, 16.1), (2.42, 17.0), (2.69, 14.4), (3.04, 13.2), (3.93, 14.4), (4.21, 11.1), (4.48, 8.9), (4.76, 7.7),
    (4.07, 6.9), (3.79, 5.2), (3.52, 7.7), (3.24, 10.2), (5.17, 8.5), (5.59, 10.2), (6.00, 12.7), (3.62, 23.7),
    (3.79, 20.3), (1.50, 14.0), (1.85, 13.5), (2.20, 14.5), (2.90, 11.5), (1.25, 13.8), (4.40, 4.5), (4.00, 4.0),
    (3.40, 2.5), (4.60, 5.8), (5.00, 6.5), (4.30, 17.0), (4.70, 13.5), (5.40, 12.5), (5.00, 18.5),
    (1.02, 1.0), (1.23, 1.4), (1.44, 0.8), (1.65, 1.2), (1.86, 0.9), (2.07, 1.3), (2.28, 1.0), (2.49, 1.4), (2.70, 0.8),
    (2.91, 1.2), (3.12, 0.9), (3.35, 1.3), (3.60, 1.0), (3.90, 1.2), (4.20, 0.9),
    (1.12, 2.3), (1.33, 2.2), (1.54, 2.4), (1.75, 2.1), (1.96, 2.3), (2.17, 2.2), (2.38, 2.4), (2.59, 2.1), (2.80, 2.3),
    (3.01, 2.2), (3.24, 2.4), (3.48, 2.1), (3.75, 2.3),
    (1.05, 3.6), (1.26, 3.2), (1.47, 3.8), (1.68, 3.4), (1.89, 3.7), (2.10, 3.1), (2.31, 3.6), (2.52, 3.3), (2.73, 3.8),
    (2.96, 3.4), (3.20, 3.6), (3.45, 3.2), (3.75, 3.5),
    (1.14, 4.8), (1.35, 4.7), (1.56, 4.9), (1.77, 4.6), (1.98, 4.8), (2.19, 4.7), (2.40, 4.9), (2.62, 4.6), (2.85, 4.8),
    (3.10, 4.7), (3.40, 4.9),
    (1.03, 6.1), (1.24, 5.8), (1.45, 6.3), (1.66, 5.9), (1.87, 6.2), (2.08, 5.7), (2.29, 6.3), (2.50, 6.0), (2.72, 5.8),
    (2.98, 6.3), (3.30, 5.9),
    (1.13, 7.3), (1.34, 7.2), (1.55, 7.4), (1.76, 7.1), (1.97, 7.3), (2.18, 7.2), (2.42, 7.4), (2.70, 7.1),
    (1.06, 8.6), (1.27, 8.3), (1.48, 8.8), (1.69, 8.4), (1.90, 8.7), (2.11, 8.2), (2.35, 8.8), (2.62, 8.4),
    (1.15, 9.8), (1.36, 9.7), (1.58, 9.9), (1.80, 9.6), (2.05, 9.8), (2.30, 9.7),
    (1.04, 11.1), (1.25, 10.8), (1.47, 11.3), (1.70, 10.9), (1.95, 11.2), (2.20, 10.7),
    (3.80, 1.2), (4.00, 2.0), (4.20, 1.6), (4.40, 2.5), (4.60, 2.2), (4.80, 3.0), (5.00, 2.8), (5.20, 3.5), (5.40, 3.3),
    (5.60, 4.1), (5.80, 4.0), (6.00, 4.7), (6.20, 4.8), (6.40, 5.5), (6.60, 5.7), (6.80, 6.4), (7.00, 6.7), (7.15, 7.3),
    (7.45, 8.1), (7.60, 8.4), (7.75, 9.0), (7.90, 9.3), (8.05, 9.9), (8.20, 10.3), (8.35, 10.8), (8.50, 11.2),
    (8.65, 11.7), (8.80, 12.1), (8.95, 12.6), (9.10, 13.0), (9.30, 13.6),
    (4.30, 4.0), (4.70, 4.6), (5.10, 5.2), (5.50, 5.8), (5.90, 6.4), (6.30, 7.0), (6.70, 7.8), (7.10, 8.6), (7.50, 9.6),
    (7.90, 10.6), (8.30, 11.8), (8.70, 13.0), (9.20, 14.5), (4.90, 7.5), (5.40, 8.2), (6.10, 9.0), (6.60, 10.0),
    (7.00, 11.5), (5.80, 12.0), (4.50, 10.5), (6.90, 14.5),
]

neu_labels = [
    ('hsp\u2212110', 2.90, 37.5, 2.07, 43.1), ('hsp\u221290', 2.00, 19.0, 2.76, 24.5),
    ('hsp\u221216.11', 7.31, 8.8, 5.38, 21.6), ('hsp\u221216.48', 7.35, 7.2, 5.38, 9.4),
    ('hsp\u221270', 8.17, 16.1, 7.58, 22.0), ('hsp\u221216.49', 7.28, 9.5, 8.27, 14.9),
    ('hsp\u221216.1', 7.79, 7.7, 9.79, 10.5), ('hsp\u221216.2', 8.96, 27.4, 9.86, 33.8),
    ('hsp\u221216.41', 9.00, 21.5, 10.20, 26.2),
]

# ---------------------------------------------------------------- layout
W, H = 569, 1167
fig = plt.figure(figsize=(W / 100, H / 100), dpi=100)
fig.patch.set_facecolor('white')

panels = [
    dict(down=wt_down, ns=wt_ns, up=wt_up, labels=wt_labels,
         box=(68.2, 568.3, 51.0, 307.7), xlim=(-5.45, 11.22), ylim=(-4.78, 100.4),
         xticks=[-5, 0, 5, 10], xminor=[-2.5, 2.5, 7.5],
         yticks=[0, 25, 50, 75, 100], yminor=[12.5, 37.5, 62.5, 87.5],
         title_x=306, title_y=23, xlab_x=304, xlab_y=343),
    dict(down=hlh_down, ns=hlh_ns, up=hlh_up, labels=hlh_labels,
         box=(59.2, 553.3, 428.4, 677.3), xlim=(-5.17, 11.3), ylim=(-5.77, 121.2),
         xticks=[-5, 0, 5, 10], xminor=[-2.5, 2.5, 7.5],
         yticks=[0, 30, 60, 90, 120], yminor=[15, 45, 75, 105],
         title_x=287, title_y=397, xlab_x=289, xlab_y=718),
    dict(down=neu_down, ns=neu_ns, up=neu_up, labels=neu_labels,
         box=(62.7, 551.5, 807.1, 1054.8), xlim=(-4.91, 15.29), ylim=(-5.69, 119.5),
         xticks=[0, 5, 10, 15], xminor=[-2.5, 2.5, 7.5, 12.5],
         yticks=[0, 30, 60, 90], yminor=[15, 45, 75, 105],
         title_x=301, title_y=770, xlab_x=302, xlab_y=1093),
]

TITLE_FS = 14.5
for p in panels:
    l, r, t, b = p['box']
    ax = fig.add_axes([l / W, 1 - b / H, (r - l) / W, (b - t) / H])
    for sp in ax.spines.values():
        sp.set_visible(False)
    ax.set_xlim(*p['xlim'])
    ax.set_ylim(*p['ylim'])
    ax.set_xticks(p['xticks'])
    ax.set_yticks(p['yticks'])
    ax.set_xticks(p['xminor'], minor=True)
    ax.set_yticks(p['yminor'], minor=True)
    ax.tick_params(which='both', length=0)
    ax.tick_params(axis='x', which='major', labelsize=10, labelcolor='#4D4D4D', pad=5)
    ax.tick_params(axis='y', which='major', labelsize=10, labelcolor='#4D4D4D', pad=2.5)
    ax.grid(which='major', color='#EBEBEB', lw=1.0, zorder=0)
    ax.grid(which='minor', color='#EBEBEB', lw=0.55, zorder=0)
    ax.set_axisbelow(True)

    for pts, col in ((p['ns'], COL_NS), (p['down'], COL_DOWN), (p['up'], COL_UP)):
        xs, ys = zip(*pts)
        ax.scatter(xs, ys, s=16, c=col, linewidths=0, zorder=2)

    ax.axvline(-LFC_CUT, color='black', lw=0.9, ls=(0, (4, 3)), zorder=3)
    ax.axvline(LFC_CUT, color='black', lw=0.9, ls=(0, (4, 3)), zorder=3)
    ax.axhline(-np.log10(P_CUT), color='black', lw=0.9, ls=(0, (4, 3)), zorder=3)

    for name, px, py, tx, ty in p['labels']:
        ax.annotate(name, xy=(px, py), xytext=(tx, ty), ha='center', va='center',
                    fontsize=8.5, fontweight='bold', fontstyle='italic', color='#111111',
                    arrowprops=dict(arrowstyle='-', lw=0.7, color='black', shrinkA=1, shrinkB=1.5),
                    zorder=5)

    fig.text(p['xlab_x'] / W, 1 - p['xlab_y'] / H, r'Log$_\mathrm{2}$ Fold Change',
             ha='center', va='center', fontsize=12, fontweight='bold', color='#1a1a1a')
    cy = (t + b) / 2
    fig.text(19 / W, 1 - cy / H, r'$\mathrm{-log}_{\mathrm{10}}\mathrm{(}\mathit{p.\!adj}\mathrm{)}$',
             rotation=90, ha='center', va='center', fontsize=12, color='#1a1a1a')

# titles
fig.text(panels[0]['title_x'] / W, 1 - panels[0]['title_y'] / H, 'Wildtype (37ºC vs 20ºC)',
         ha='center', va='center', fontsize=TITLE_FS, fontweight='bold', color='#1a1a1a')
fig.text(panels[2]['title_x'] / W, 1 - panels[2]['title_y'] / H, 'Neuronal HLH-30 rescue (37ºC vs 20ºC)',
         ha='center', va='center', fontsize=TITLE_FS, fontweight='bold', color='#1a1a1a')

renderer = fig.canvas.get_renderer()
t1 = fig.text(0, 0, 'hlh-30(tm1978)', fontsize=TITLE_FS, fontweight='bold', fontstyle='italic',
              va='center', ha='left', color='#1a1a1a')
t2 = fig.text(0, 0, ' (37ºC vs 20ºC)', fontsize=TITLE_FS, fontweight='bold',
              va='center', ha='left', color='#1a1a1a')
w1 = t1.get_window_extent(renderer).width
w2 = t2.get_window_extent(renderer).width
x0 = panels[1]['title_x'] - (w1 + w2) / 2
yt = 1 - panels[1]['title_y'] / H
t1.set_position((x0 / W, yt))
t2.set_position(((x0 + w1) / W, yt))

# legend
leg_y = 1 - 1157 / H
for mx, tx, col, lab in ((72, 80, COL_DOWN, 'Downregulated'),
                         (220, 227, COL_NS, 'Not Significantly changed'),
                         (446, 455, COL_UP, 'Upregulated')):
    fig.add_artist(Line2D([mx / W], [leg_y], marker='o', markersize=4.8, color=col,
                          markeredgewidth=0, transform=fig.transFigure))
    fig.text(tx / W, leg_y, lab, ha='left', va='center', fontsize=11.5, fontweight='bold', color='#1a1a1a')

fig.savefig('out.png', dpi=100, facecolor='white')
